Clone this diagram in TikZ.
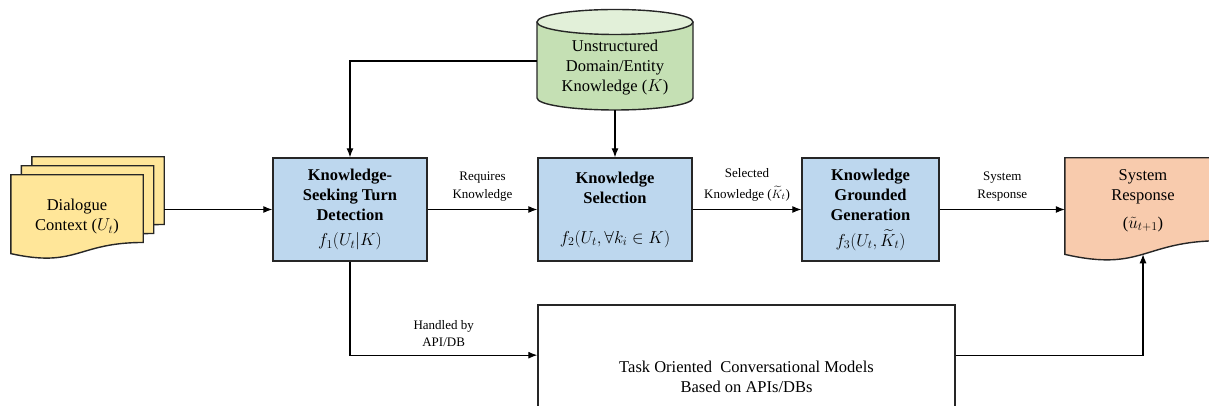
\documentclass[tikz,border=0pt]{standalone}
\usepackage{amsmath,amssymb}
\usepackage{fontspec}
\setmainfont{Liberation Serif}
\usetikzlibrary{arrows.meta,positioning,calc}
\pgfdeclarelayer{background}
\pgfsetlayers{background,main}

\definecolor{procblue}{HTML}{BDD7EE}
\definecolor{docyellow}{HTML}{FFE699}
\definecolor{kbgreen}{HTML}{C5E0B4}
\definecolor{kbtop}{HTML}{E2F0D9}
\definecolor{respsalmon}{HTML}{F8CBAD}
\definecolor{edgegray}{HTML}{262626}

% office style document outline around a node
\newcommand{\docshape}[2]{%
  \filldraw[boxline,fill=#2] (#1.north west) -- (#1.north east)
    -- ($(#1.north east)!0.802!(#1.south east)$)
    .. controls ($(#1.north)!0.802!(#1.south)$) and ($(#1.north)!1.107!(#1.south)$)
    .. ($(#1.north west)!0.934!(#1.south west)$) -- cycle;}

\begin{document}
\begin{tikzpicture}[x=1pt,y=1pt,
				every node/.style={on grid},
				boxline/.style={draw=edgegray,line width=1.4pt},
				txt/.style={align=center,font=\fontsize{16.5}{20}\selectfont},
				proc/.style={boxline,txt,fill=procblue,minimum width=154pt,minimum height=103pt,inner sep=0pt},
				doc/.style={txt,minimum width=132pt,minimum height=84pt,inner sep=0pt},
				lbl/.style={align=center,font=\fontsize{13}{17.5}\selectfont,inner sep=3pt,above=5pt},
				conn/.style={->,line width=1.1pt},
				>={Latex[length=9pt,width=7pt]}
				]
				\useasboundingbox (0,0) rectangle (1209,406);
				
				% the pipeline
				\node[proc] (kstd) at (350,196.5) {\textbf{Knowledge-}\\\textbf{Seeking Turn}\\\textbf{Detection}\\[5pt]$f_1(U_t|K)$};
				\node[proc,right=265pt of kstd] (ks) {\textbf{Knowledge}\\\textbf{Selection}\\[20pt]$f_2(U_t,\forall k_i\in K)$};
				\node[proc,minimum width=137pt,right=255.5pt of ks] (kgg) {\textbf{Knowledge}\\\textbf{Grounded}\\\textbf{Generation}\\[6pt]$f_3(U_t,\widetilde{K}_t)$};
				
				% the documents
				\node[doc] (dlgb) at (98,207) {};
				\node[doc] (dlgm) at (87.5,198) {};
				\node[doc] (dlg) at (77,189) {Dialogue\\Context ($U_t$)};
				\node[doc,minimum width=156pt,minimum height=103pt,right=272.5pt of kgg,
				      label={[txt,yshift=9pt]center:{System\\Response\\[8pt]($\tilde{u}_{t+1}$)}}] (sr) {};
				
				% knowledge base
				\node[txt,minimum width=156pt,minimum height=84pt,inner sep=0pt,above=141.5pt of ks] (kb) {Unstructured\\Domain/Entity\\Knowledge ($K$)};
				
				% task oriented box
				\node[boxline,txt,fill=white,minimum width=417pt,minimum height=144pt,below right=167.5pt and 131.5pt of ks] (tocm) {Task Oriented\ \ Conversational Models\\Based on APIs/DBs};
				
				% the arrows
				\draw[conn] (kstd.west -| dlgb.east) -- (kstd.west);
				\draw[conn] (kstd) -- node[lbl] {Requires\\Knowledge} (ks);
				\draw[conn] (ks) -- node[lbl] {Selected\\[3pt]Knowledge ($\widetilde{K}_t$)} (kgg);
				\draw[conn] (kgg) -- node[lbl] {System\\Response} (sr.west);
				\draw[conn] ($(kb.west)+(0,7)$) -| (kstd.north);
				\draw[conn] (kb.south) -- (ks.north);
				\draw[conn] (kstd.south) |- node[lbl,pos=0.75] {Handled by\\API/DB} ($(tocm.north west)!0.35!(tocm.south west)$);
				\draw[conn] ($(tocm.north east)!0.35!(tocm.south east)$) -| ($(sr.north)!0.933!(sr.south)$);
				
				% the shapes behind the texts
				\begin{pgfonlayer}{background}
					\docshape{dlgb}{docyellow}
					\docshape{dlgm}{docyellow}
					\docshape{dlg}{docyellow}
					\docshape{sr}{respsalmon}
					\filldraw[boxline,fill=kbgreen] ($(kb.center)+(-78,46)$) -- ($(kb.center)+(-78,-30)$)
						arc[start angle=180,end angle=360,x radius=78pt,y radius=12pt] -- ($(kb.center)+(78,46)$);
					\filldraw[boxline,fill=kbtop] ($(kb.center)+(0,46)$) ellipse[x radius=78pt,y radius=12.5pt];
				\end{pgfonlayer}
			\end{tikzpicture}
\end{document}
